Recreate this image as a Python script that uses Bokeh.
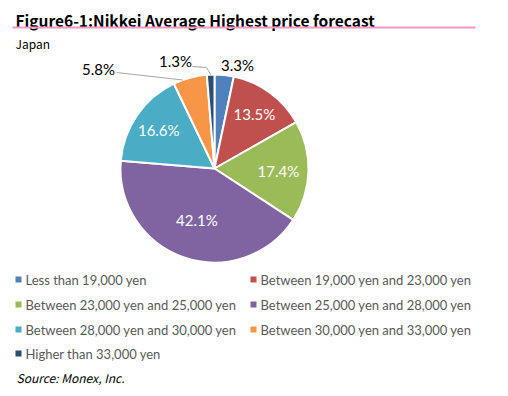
import numpy as np
from bokeh.plotting import figure
from bokeh.models import Range1d, ColumnDataSource
from bokeh.core.properties import value
from bokeh.embed import file_html
from bokeh.resources import INLINE

# ---- data ----
categories = [
    "Less than 19,000 yen",
    "Between 19,000 yen and 23,000 yen",
    "Between 23,000 yen and 25,000 yen",
    "Between 25,000 yen and 28,000 yen",
    "Between 28,000 yen and 30,000 yen",
    "Between 30,000 yen and 33,000 yen",
    "Higher than 33,000 yen",
]
shares = [3.3, 13.5, 17.4, 42.1, 16.6, 5.8, 1.3]
colors = ["#4F81BD", "#C0504D", "#9BBB59", "#8064A2", "#4BACC6", "#F79646", "#2C4D75"]
title_text = "Figure6-1:Nikkei Average Highest price forecast"
subtitle_text = "Japan"
source_text = "Source: Monex, Inc."

W, H = 508, 396
p = figure(width=W, height=H, output_backend="svg", toolbar_location=None,
           x_range=Range1d(0, W), y_range=Range1d(0, H),
           x_axis_type=None, y_axis_type=None, min_border=0)
p.grid.visible = False
p.outline_line_color = None
p.background_fill_color = "white"

def X(rx):
    return rx
def Y(ry):
    return H - ry

# ---- title ----
p.text(x=[X(15)], y=[Y(19)], text=[title_text], text_font=value("Noto Sans CJK JP"),
       text_font_style="bold", text_font_size="15.5px", text_color="black",
       text_baseline="middle", text_align="left")
p.segment(x0=[X(12)], y0=[Y(27)], x1=[X(475)], y1=[Y(27)], line_color="#F59AC8", line_width=2)
p.text(x=[X(15)], y=[Y(43)], text=[subtitle_text], text_font=value("Noto Sans CJK JP"),
       text_font_size="12px", text_color="black", text_baseline="middle", text_align="left")

# ---- pie ----
cx, cy, R = X(214), Y(168), 94
vals = np.array(shares)
frac = vals / vals.sum()
cum = np.concatenate([[0], np.cumsum(frac)])
start = np.pi / 2 - 2 * np.pi * cum[1:]
end = np.pi / 2 - 2 * np.pi * cum[:-1]
src = ColumnDataSource(dict(start=start, end=end, color=colors))
p.wedge(x=cx, y=cy, radius=R, start_angle="start", end_angle="end", fill_color="color",
        line_color="white", line_width=2, source=src)

mid = (start + end) / 2
labels = [f"{v:.1f}%" for v in shares]
# label radius (fraction of R) for inside labels; None means placed outside
label_r = [None, 0.72, 0.68, 0.58, 0.72, None, None]
for i, lr in enumerate(label_r):
    if lr is None:
        continue
    lx = cx + lr * R * np.cos(mid[i])
    ly = cy + lr * R * np.sin(mid[i])
    p.text(x=[lx], y=[ly], text=[labels[i]], text_font=value("Lato"), text_font_size="15px",
           text_color="white", text_align="center", text_baseline="middle")

# outside labels
p.text(x=[X(237)], y=[Y(64)], text=[labels[0]], text_font=value("Lato"), text_font_size="15px",
       text_color="black", text_align="center", text_baseline="middle")

p.text(x=[X(98)], y=[Y(68)], text=[labels[5]], text_font=value("Lato"), text_font_size="15px",
       text_color="black", text_align="center", text_baseline="middle")
e5x = cx + R * np.cos(mid[5] + 0.08); e5y = cy + R * np.sin(mid[5] + 0.08)
p.line(x=[X(116), e5x], y=[Y(72), e5y], line_color="#A6A6A6", line_width=1)

p.text(x=[X(175)], y=[Y(60)], text=[labels[6]], text_font=value("Lato"), text_font_size="15px",
       text_color="black", text_align="center", text_baseline="middle")
e6x = cx + R * np.cos(mid[6]); e6y = cy + R * np.sin(mid[6])
p.line(x=[X(192), X(206), e6x], y=[Y(66), Y(67), e6y], line_color="#A6A6A6", line_width=1)

# ---- legend ----
lx0 = [X(18), X(253)]
row_y = [279, 304, 329, 353]
for i, (cat, c) in enumerate(zip(categories, colors)):
    col, row = i % 2, i // 2
    sx = lx0[col]
    sy = Y(row_y[row])
    p.scatter(x=[sx], y=[sy], marker="square", size=6, fill_color=c, line_color=None)
    p.text(x=[sx + 7], y=[sy], text=[cat], text_font=value("Lato"), text_font_size="13px",
           text_color="#595959", text_align="left", text_baseline="middle")

p.text(x=[X(16)], y=[Y(377)], text=[source_text], text_font=value("Noto Sans CJK JP"),
       text_font_style="italic", text_font_size="12px", text_color="black",
       text_baseline="middle", text_align="left")

open("out.html", "w").write(file_html(p, INLINE))
